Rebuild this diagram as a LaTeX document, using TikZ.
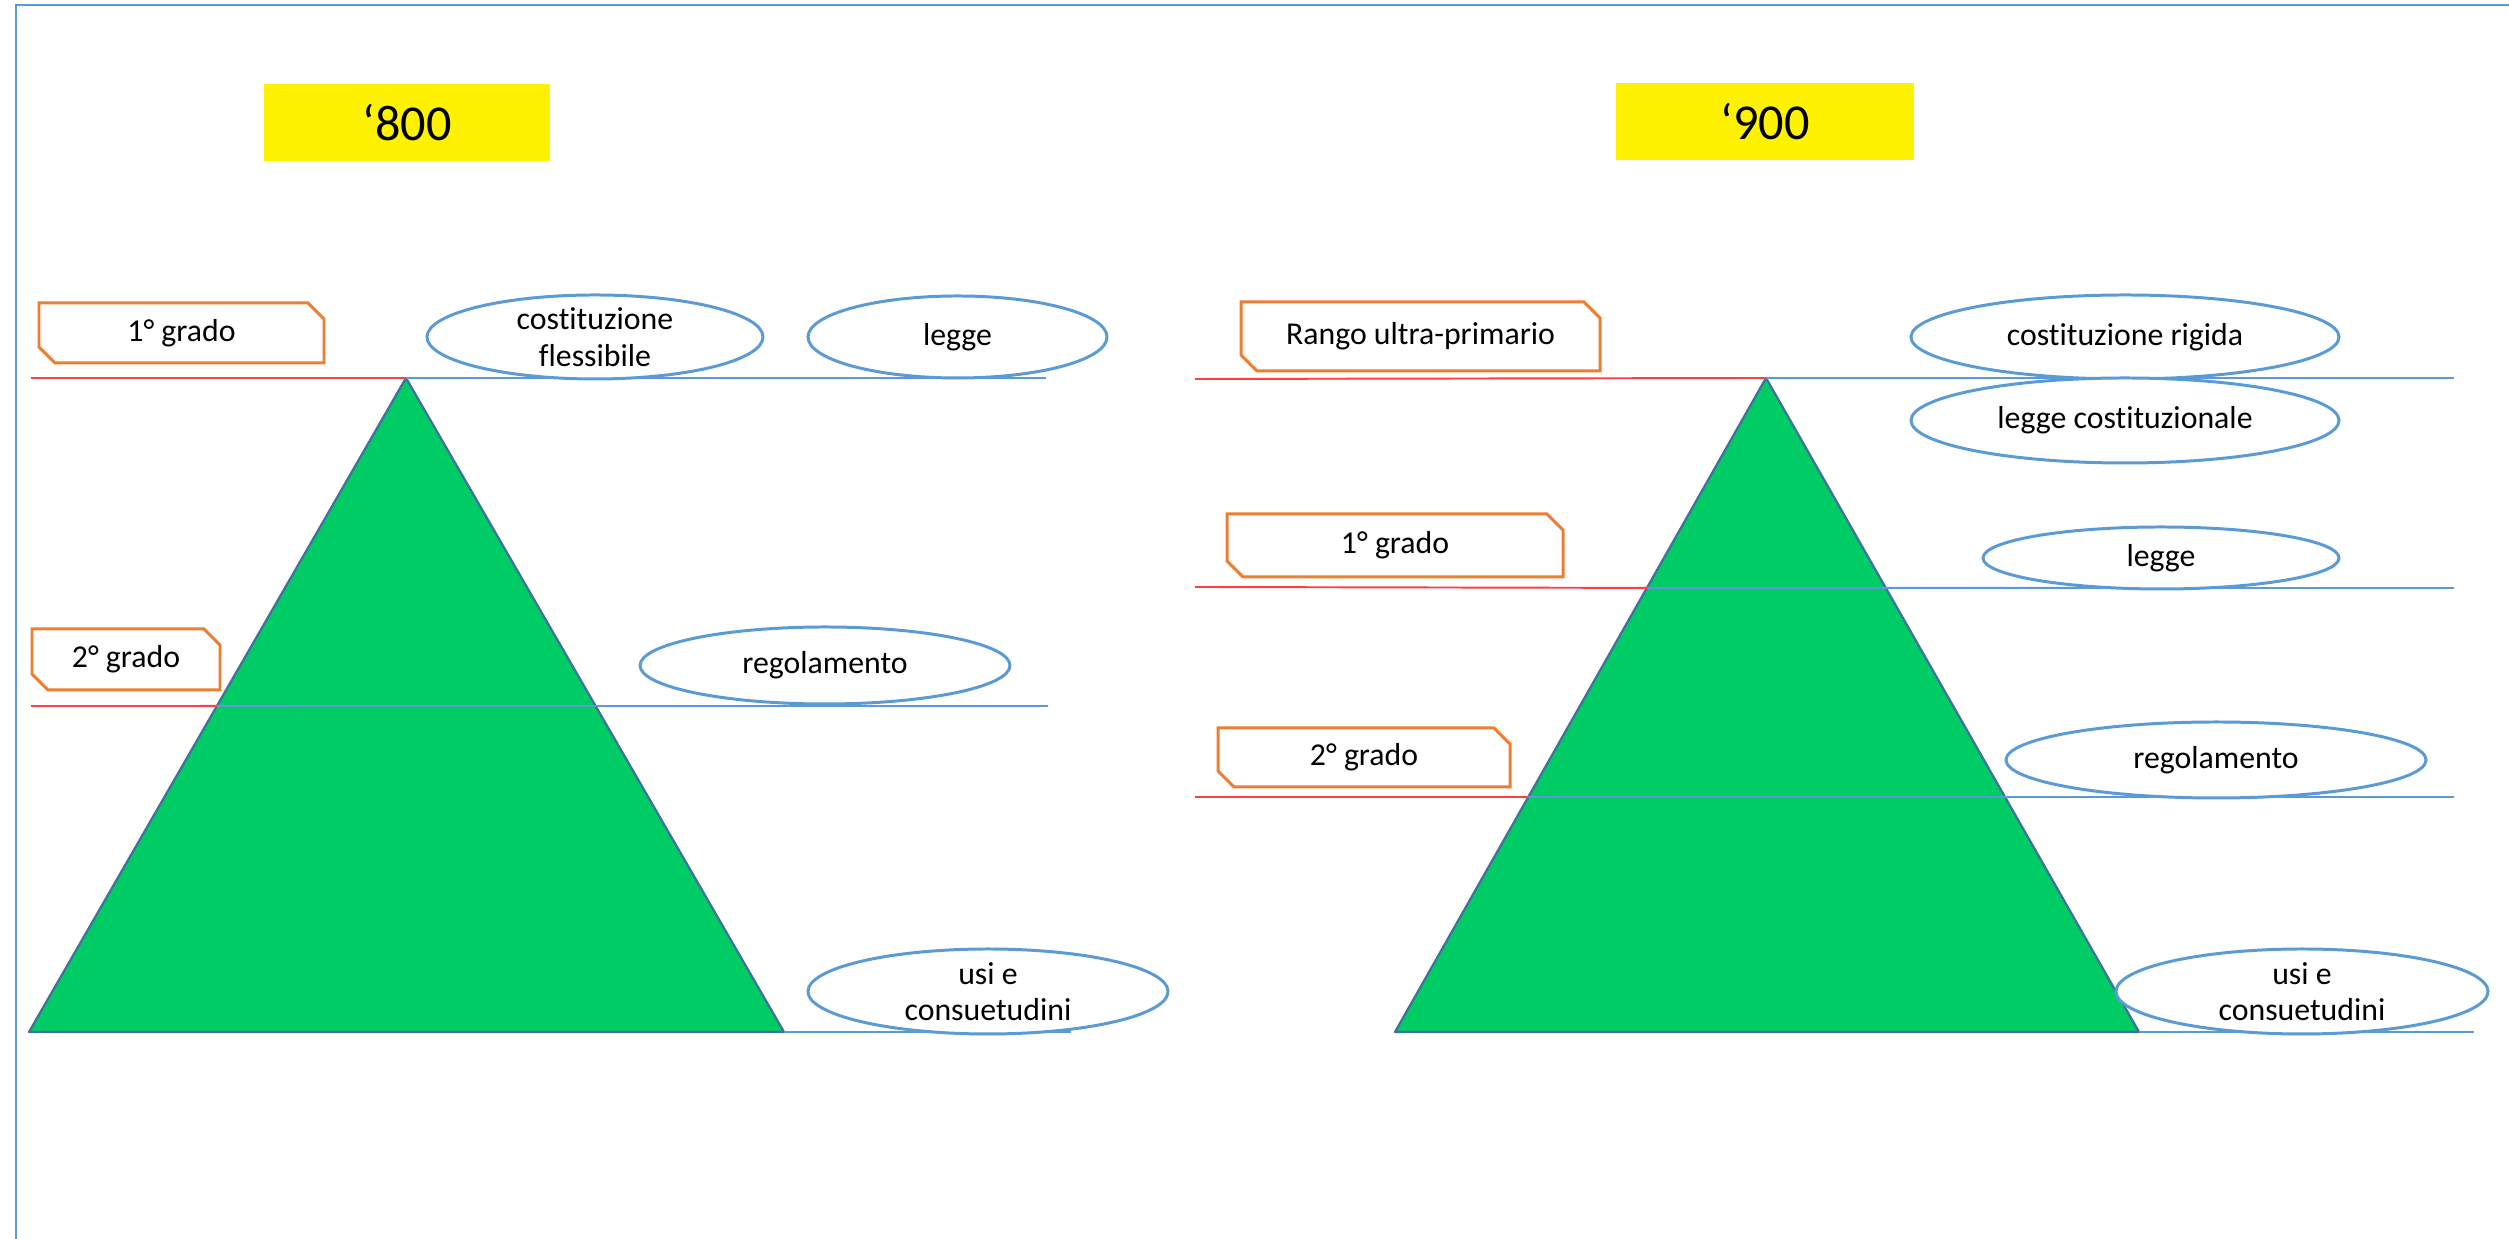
\documentclass[tikz,border=0pt]{standalone}
\usepackage{fontspec}
\setmainfont[Ligatures=NoCommon]{Carlito}
\usetikzlibrary{shapes.geometric, shapes.misc, calc}
\usepackage{xcolor}

\definecolor{lineblue}{HTML}{5B9BD5}
\definecolor{boxorange}{HTML}{ED7D31}
\definecolor{pyrgreen}{HTML}{00CC66}
\definecolor{pyredge}{HTML}{41719C}
\definecolor{lvlred}{HTML}{FF3F3F}

\newcommand{\lblfont}{\fontsize{9.05}{10.4}\selectfont}

\tikzset{
    era/.style={fill=yellow, inner sep=0pt, minimum height=0.77cm,
        font=\fontsize{14.3}{17}\selectfont},
    grade/.style={draw=boxorange, line width=0.85pt, chamfered rectangle,
        chamfered rectangle corners={north east, south west},
        chamfered rectangle xsep=0.8mm, chamfered rectangle ysep=0.8mm,
        inner sep=0pt, font=\lblfont},
    source/.style={draw=lineblue, fill=white, line width=0.85pt, ellipse,
        inner sep=0pt, align=center, font=\lblfont},
    redline/.style={lvlred, line width=0.55pt},
    blueline/.style={lineblue, line width=0.55pt},
    pyramid/.style={fill=pyrgreen, draw=pyredge, line width=0.65pt, line join=round}
}

\begin{document}
\begin{tikzpicture}
    \useasboundingbox (0,0) rectangle (25.09,12.39);
    \draw[lineblue, line width=0.6pt] (0.16,0) -- (0.16,12.34) -- (25.09,12.34);

    % '800
    \coordinate (aL) at (4.06,8.61);
    \coordinate (blL) at (0.29,2.07);
    \coordinate (brL) at (7.84,2.07);
    \filldraw[pyramid] (aL) -- (blL) -- (brL) -- cycle;

    \coordinate (s1L) at (0.31,8.61);
    \coordinate (e1L) at (10.46,8.61);
    \coordinate (s2L) at (0.31,5.33);
    \coordinate (k2L) at ($(aL)!0.5015!(blL)$);
    \coordinate (e2L) at (10.48,5.33);
    \coordinate (e3L) at (10.71,2.07);

    \draw[redline] (s1L) -- (aL);
    \draw[blueline] (aL) -- (e1L);
    \draw[redline] (s2L) -- (k2L);
    \draw[blueline] (k2L) -- (e2L);
    \draw[blueline] (brL) -- (e3L);

    \node[era, minimum width=2.86cm] (t800) at (4.07,11.16) {‘800};
    \node[grade, minimum width=2.85cm, minimum height=0.60cm] (g1L) at (1.815,9.06) {1° grado};
    \node[grade, minimum width=1.88cm, minimum height=0.61cm] (g2L) at (1.26,5.795) {2° grado};

    \node[source, minimum width=3.36cm, minimum height=0.84cm] (costL) at (5.95,9.02) {costituzione\\flessibile};
    \node[source, minimum width=2.99cm, minimum height=0.82cm] (leggeL) at (9.575,9.02) {legge};
    \node[source, minimum width=3.70cm, minimum height=0.77cm] (regL) at (8.25,5.735) {regolamento};
    \node[source, minimum width=3.60cm, minimum height=0.85cm] (usiL) at (9.88,2.475) {usi e\\consuetudini};

    % '900
    \coordinate (aR) at (17.66,8.61);
    \coordinate (blR) at (13.95,2.07);
    \coordinate (brR) at (21.39,2.07);
    \filldraw[pyramid] (aR) -- (blR) -- (brR) -- cycle;

    \coordinate (s1R) at (11.95,8.60);
    \coordinate (e1R) at (24.54,8.61);
    \coordinate (s2R) at (11.95,6.52);
    \coordinate (k2R) at ($(aR)!0.321!(blR)$);
    \coordinate (e2R) at (24.54,6.51);
    \coordinate (s3R) at (11.95,4.42);
    \coordinate (k3R) at ($(aR)!0.6407!(blR)$);
    \coordinate (e3R) at (24.54,4.42);
    \coordinate (e4R) at (24.74,2.07);

    \draw[redline] (s1R) -- (aR);
    \draw[blueline] (aR) -- (e1R);
    \draw[redline] (s2R) -- (k2R);
    \draw[blueline] (k2R) -- (e2R);
    \draw[redline] (s3R) -- (k3R);
    \draw[blueline] (k3R) -- (e3R);
    \draw[blueline] (brR) -- (e4R);

    \node[era, minimum width=2.98cm] (t900) at (17.65,11.17) {‘900};
    \node[grade, minimum width=3.59cm, minimum height=0.69cm] (rango) at (14.205,9.025) {Rango ultra-primario};
    \node[grade, minimum width=3.36cm, minimum height=0.63cm] (g1R) at (13.95,6.935) {1° grado};
    \node[grade, minimum width=2.92cm, minimum height=0.59cm] (g2R) at (13.64,4.815) {2° grado};

    \node[source, minimum width=4.28cm, minimum height=0.84cm] (costR) at (21.25,9.02) {costituzione rigida};
    \node[source, minimum width=4.28cm, minimum height=0.85cm] (lcost) at (21.25,8.185) {legge costituzionale};
    \node[source, minimum width=3.56cm, minimum height=0.62cm] (leggeR) at (21.61,6.81) {legge};
    \node[source, minimum width=4.20cm, minimum height=0.76cm] (regR) at (22.16,4.79) {regolamento};
    \node[source, minimum width=3.72cm, minimum height=0.85cm] (usiR) at (23.02,2.475) {usi e\\consuetudini};
\end{tikzpicture}
\end{document}
